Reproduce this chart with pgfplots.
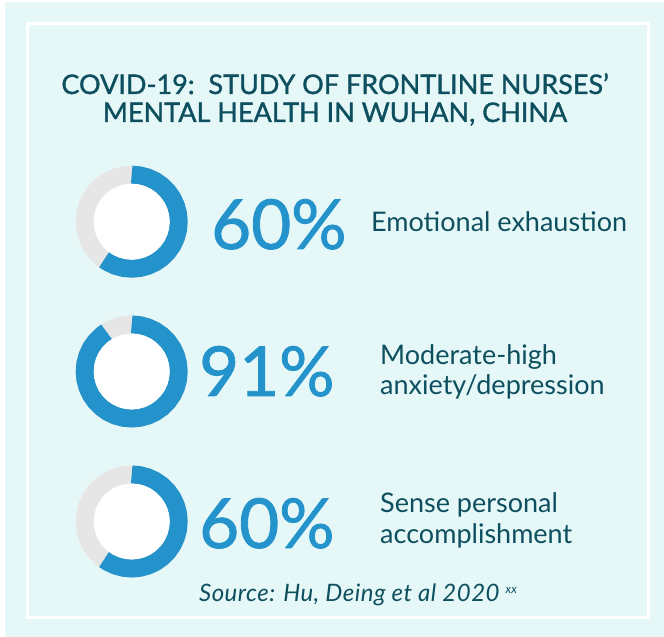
\documentclass[border=0pt]{standalone}
\usepackage{fontspec}
\setmainfont{Lato}
\usepackage{pgfplots}
\pgfplotsset{compat=1.18}
\usepackage{pgfplotstable}
\usepgfplotslibrary{polar}
\definecolor{bgc}{HTML}{E5F8F7}
\definecolor{dblue}{HTML}{2492CB}
\definecolor{lgray}{HTML}{E6E6E6}
\definecolor{teal}{HTML}{0E4F5F}

% full circle (angle, mid radius of ring, inner radius)
\pgfplotstableread{
a rm ri
0 47 38
10 47 38
20 47 38
30 47 38
40 47 38
50 47 38
60 47 38
70 47 38
80 47 38
90 47 38
100 47 38
110 47 38
120 47 38
130 47 38
140 47 38
150 47 38
160 47 38
170 47 38
180 47 38
190 47 38
200 47 38
210 47 38
220 47 38
230 47 38
240 47 38
250 47 38
260 47 38
270 47 38
280 47 38
290 47 38
300 47 38
310 47 38
320 47 38
330 47 38
340 47 38
350 47 38
360 47 38
}\ringtab

% 60% arc: from 90 deg clockwise by 0.60*360 = 216 deg
\pgfplotstableread{
a r
90 47
80 47
70 47
60 47
50 47
40 47
30 47
20 47
10 47
0 47
-10 47
-20 47
-30 47
-40 47
-50 47
-60 47
-70 47
-80 47
-90 47
-100 47
-110 47
-120 47
-126 47
}\arcsixty

% 91% arc: from 90 deg clockwise by 0.91*360 = 327.6 deg
\pgfplotstableread{
a r
90 47
80 47
70 47
60 47
50 47
40 47
30 47
20 47
10 47
0 47
-10 47
-20 47
-30 47
-40 47
-50 47
-60 47
-70 47
-80 47
-90 47
-100 47
-110 47
-120 47
-130 47
-140 47
-150 47
-160 47
-170 47
-180 47
-190 47
-200 47
-210 47
-220 47
-230 47
-237.6 47
}\arcninetyone

\pgfplotsset{donut/.style={hide axis, scale only axis, width=112pt, height=112pt,
  ymin=0, ymax=56, xmin=0, xmax=360, clip=false, anchor=center}}

\newcommand{\medium}{\addfontfeatures{FakeBold=1.2}}

\begin{document}
\begin{tikzpicture}[x=1pt,y=1pt]
\path[use as bounding box] (0,0) rectangle (664,637);
\fill[white] (0,0) rectangle (664,637);
\fill[bgc] (5,0) rectangle (664,635);
\draw[white, line width=3pt] (27.5,613) rectangle (648.5,19.5);

\node[anchor=base, inner sep=0pt, text=teal, font=\fontsize{27}{30}\selectfont\medium] at (335,543) {COVID-19:\ \ STUDY OF FRONTLINE NURSES’};
\node[anchor=base, inner sep=0pt, text=teal, font=\fontsize{27}{30}\selectfont\medium] at (335,515) {MENTAL HEALTH IN WUHAN, CHINA};

% donut 1: 60%
\begin{polaraxis}[donut, at={(131.7pt,415.3pt)}]
\addplot[draw=lgray, line width=18pt, no markers] table[x=a, y=rm] {\ringtab};
\addplot[draw=dblue, line width=18pt, no markers] table[x=a, y=r] {\arcsixty};
\addplot[fill=white, draw=none, no markers] table[x=a, y=ri] {\ringtab};
\end{polaraxis}

% donut 2: 91%
\begin{polaraxis}[donut, at={(131.7pt,265.5pt)}]
\addplot[draw=lgray, line width=18pt, no markers] table[x=a, y=rm] {\ringtab};
\addplot[draw=dblue, line width=18pt, no markers] table[x=a, y=r] {\arcninetyone};
\addplot[fill=white, draw=none, no markers] table[x=a, y=ri] {\ringtab};
\end{polaraxis}

% donut 3: 60%
\begin{polaraxis}[donut, at={(131.7pt,115.5pt)}]
\addplot[draw=lgray, line width=18pt, no markers] table[x=a, y=rm] {\ringtab};
\addplot[draw=dblue, line width=18pt, no markers] table[x=a, y=r] {\arcsixty};
\addplot[fill=white, draw=none, no markers] table[x=a, y=ri] {\ringtab};
\end{polaraxis}

\node[anchor=base west, inner sep=0pt, text=dblue, font=\fontsize{69}{70}\selectfont\medium] at (211,388) {60\%};
\node[anchor=base west, inner sep=0pt, text=dblue, font=\fontsize{69}{70}\selectfont\medium] at (199,241) {91\%};
\node[anchor=base west, inner sep=0pt, text=dblue, font=\fontsize{69}{70}\selectfont\medium] at (199,89) {60\%};

\node[anchor=base west, inner sep=0pt, text=teal, font=\fontsize{27}{30}\selectfont] at (371,405) {Emotional exhaustion};
\node[anchor=base west, inner sep=0pt, text=teal, font=\fontsize{27}{30}\selectfont] at (380,272) {Moderate-high};
\node[anchor=base west, inner sep=0pt, text=teal, font=\fontsize{27}{30}\selectfont] at (380,242) {anxiety/depression};
\node[anchor=base west, inner sep=0pt, text=teal, font=\fontsize{27}{30}\selectfont] at (380,124) {Sense personal};
\node[anchor=base west, inner sep=0pt, text=teal, font=\fontsize{27}{30}\selectfont] at (380,93) {accomplishment};

\node[anchor=base west, inner sep=0pt, text=teal, font=\fontsize{24}{27}\selectfont\itshape\addfontfeatures{LetterSpace=2}] at (199,35) {Source: Hu, Deing et al 2020 \raisebox{8pt}{\fontsize{12}{12}\selectfont xx}};
\end{tikzpicture}
\end{document}
